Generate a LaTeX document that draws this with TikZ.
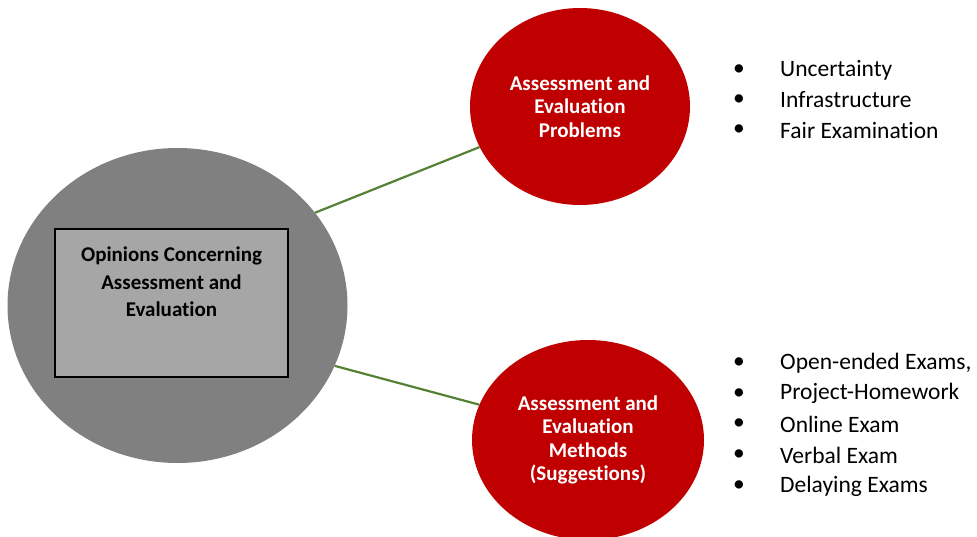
\documentclass[tikz,border=0pt]{standalone}
\usepackage{fontspec}
\setmainfont{Carlito}[Ligatures=CommonOff]
\usepackage{tikz}
\usetikzlibrary{shapes.geometric}

\definecolor{topicgray}{HTML}{808080}
\definecolor{boxgray}{HTML}{A6A6A6}
\definecolor{darkred}{HTML}{C00000}
\definecolor{linkgreen}{HTML}{548235}

\tikzset{
  topic/.style={ellipse, fill=topicgray, inner sep=0pt},
  branch/.style={ellipse, fill=darkred, inner sep=0pt, text=white, align=center,
    font=\bfseries\fontsize{21}{23.5}\selectfont},
  inbox/.style={draw=black, line width=1.5pt, fill=boxgray, minimum width=233pt, minimum height=148pt},
  boxtext/.style={align=center, font=\bfseries\fontsize{21}{27.5}\selectfont},
  item/.style={anchor=west, inner sep=0pt, font=\fontsize{23.5}{23.5}\selectfont},
  link/.style={linkgreen, line width=2.2pt}
}

\begin{document}
\begin{tikzpicture}[x=1pt,y=-1pt]
  \useasboundingbox (0,0) rectangle (977,536);

  % Central topic with its box
  \node[topic, minimum width=340pt, minimum height=315pt] (topic) at (177.5,305.5) {};
  \node[inbox] (box) at (171.5,303) {};
  \node[boxtext, anchor=north] (boxlabel) at ([yshift=-15pt]box.north)
    {Opinions Concerning\\Assessment and\\Evaluation};

  % The two branches
  \node[branch, minimum width=220pt, minimum height=197pt] (problems) at (580,106.5)
    {Assessment and\\Evaluation\\Problems};
  \node[branch, minimum width=232pt, minimum height=200pt] (methods) at (588,440)
    {Assessment and\\Evaluation\\Methods\\(Suggestions)};

  % Connectors
  \draw[link] (topic.34) -- (problems.202);
  \draw[link] (topic.339) -- (methods.162.6);

  % Bullet lists
  \foreach \t [count=\i] in {Uncertainty, Infrastructure, Fair Examination}{
    \node[item] (bul\i) at (733,70+30*\i-30) {\textbullet};
    \node[item] (prob\i) at (780,70+30*\i-30) {\t};
  }
  \foreach \t [count=\i] in {{Open-ended Exams,}, Project-Homework, Online Exam, Verbal Exam, Delaying Exams}{
    \node[item] (mbul\i) at (733,363+30.75*\i-30.75) {\textbullet};
    \node[item] (meth\i) at (780,363+30.75*\i-30.75) {\t};
  }
\end{tikzpicture}
\end{document}
